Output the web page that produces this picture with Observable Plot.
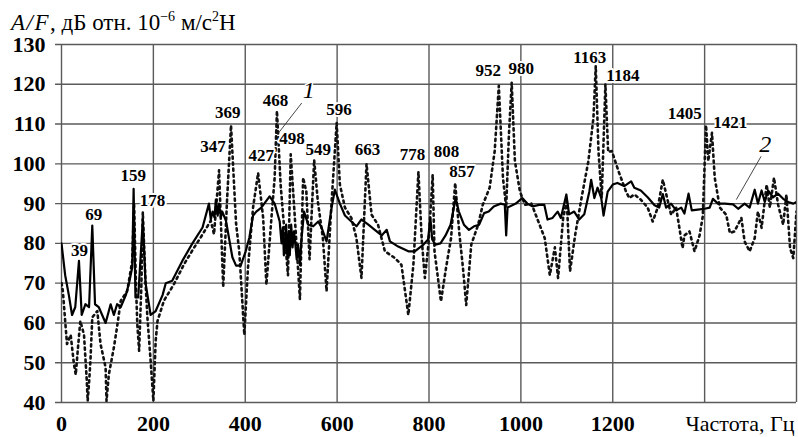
<!DOCTYPE html>
<html><head><meta charset="utf-8">
<script src="https://cdn.jsdelivr.net/npm/d3@7"></script>
<script src="https://cdn.jsdelivr.net/npm/@observablehq/plot@0.6"></script>
<style>
body{margin:0;background:#fff;}
#wrap{position:relative;width:798px;height:437px;font-family:"Liberation Serif","Times New Roman",serif;}
#title{position:absolute;left:11px;top:10px;font-size:23px;color:#000;white-space:nowrap;}
#title i{letter-spacing:1.5px;}
#title sup{font-size:14px;vertical-align:0;position:relative;top:-9px;}
svg{position:absolute;left:0;top:0;}
</style></head>
<body><div id="wrap"><div id="title"><i>A/F</i>, дБ отн. 10<sup>−6</sup> м/с<sup>2</sup>Н</div></div>
<script>
// Series 2 (solid)
const freq2 = [0,8,16,23,30,38,44,52,60,67,73,81,96,107,114,121,129,140,147,154,157,161,167,177,183,194,205,220,227,241,263,285,307,321,325,329,333,336,340,343,347,350,358,372,380,390,401,409,417,424,435,453,464,475,479,482,484,486,489,492,495,497,500,503,506,508,512,515,519,522,528,537,548,559,566,577,588,595,606,617,631,642,653,668,682,697,708,715,733,755,769,788,798,803,807,814,825,836,847,858,865,876,887,898,909,920,930,941,956,965,968,971,989,1003,1014,1025,1040,1051,1058,1069,1080,1087,1099,1105,1116,1127,1138,1149,1153,1160,1167,1175,1180,1189,1200,1210,1225,1240,1247,1261,1276,1291,1301,1309,1316,1327,1338,1349,1356,1365,1372,1385,1400,1411,1418,1429,1444,1462,1473,1487,1498,1509,1516,1524,1531,1538,1549,1560,1571,1582,1593,1600];
const val2 = [80,72,67,62,64,75.6,62,64.7,64,84.5,64.7,64,60,64.7,62,64.7,64,67,70,74,93.7,66.4,66.4,86,70,62,63,67,70,70.6,75.6,80,84,90,86,88,86.5,91,87,90,86.5,88,85.7,76.5,74.4,74.4,78,81.5,87,88,89,91.8,90,85.5,80,84,77,78,84.7,76,83,77,84.7,79,83,81,76,79.7,74.6,80.5,88,84.7,84.3,85.5,84,80.5,89,93.5,90,87,85.5,84.3,86,84.7,83.4,82,83.4,80.5,79.2,78,78,79.7,81,86.4,81,79.7,80,82,84.7,91.4,88,84.7,83.4,84.3,84.7,87.6,88,89.3,90,89.7,82,89,90,91.4,90,89.3,89.7,89.7,86,86.4,88,86.4,92.3,87.3,88,86,87.3,93,96,91.4,94,91.4,87,93,94.8,95.2,94.4,95.6,94,93.3,91.6,89.6,89,92.4,89,90,88.3,89,87.5,92.5,88.3,88.5,88.7,89,91.2,90,90,89.8,88.7,90,89,93.5,90,93.3,90.4,93.3,91.6,92.5,91.2,90.4,90,90.4];

// Series 1 (dotted)
const freq1 = [0,3,9,12,20,27,31,36,41,49,55,57,60,63,67,78,85,96,98,103,114,121,129,143,154,158,162,165,169,174,177,183,187,194,198,200,205,209,223,245,267,289,303,325,332,343,352,360,369,380,387,398,406,417,428,439,446,457,464,469,477,486,493,499,508,519,526,533,540,550,558,569,577,588,599,606,617,631,642,653,664,675,689,704,726,740,755,766,777,784,791,799,808,812,826,837,848,857,866,874,881,892,907,917,932,943,952,961,968,974,980,987,998,1009,1023,1038,1052,1063,1074,1081,1092,1100,1107,1118,1132,1147,1158,1163,1169,1176,1184,1190,1198,1213,1229,1236,1247,1261,1276,1287,1298,1309,1320,1327,1338,1352,1356,1367,1378,1389,1396,1403,1408,1416,1422,1433,1447,1455,1465,1480,1487,1498,1509,1516,1524,1535,1542,1551,1560,1571,1578,1586,1593,1600];
const val1 = [70,68,59,54.7,57,49.7,47,54,60.5,57,45.5,40.4,45,50.5,61.4,63,54.7,48.8,40.4,47,53.8,59,65.6,68,75.6,90,70,59.7,53,70,87.8,70,61.4,50.5,43.8,40.4,55.5,60.5,65.6,69.8,74.8,79,81.5,85.7,82.3,98.4,69,90,109.7,85,78,57,74,89,97.7,86.4,69.6,86.4,96.5,113.3,94.8,82,72,102.4,86.4,66,96.5,93,76,101,90.6,81.3,68,90.6,110.3,94.8,89,86.4,81.3,71.3,100,87.2,84.7,78,76.3,74.6,62,74.6,98,81.3,71.3,80,97.3,78,65.4,73.8,81.3,95.2,82.6,73.8,64.5,79.7,84.7,89.7,94,103.2,119.6,96.5,89,107.4,120.4,100.7,93,89.7,90,85.5,81.3,72,79,71.3,86.4,90.6,73,82,91.4,100.7,111.6,124.6,103,91.4,120,103,103.2,98,93,91.4,92.3,91,89,85.5,89,96,90.6,87.2,89,78.8,82,83,78,82,86.8,109.7,100.7,107.8,96.5,89,87.2,82.6,83,86.4,80.5,78,81.3,88,83.9,94.8,89,96.5,89.7,84.7,92.3,78.8,76.3,88];

// Peak annotations (text, label anchor in data units)
const peakText = ["39","69","159","178","347","369","427","468","498","549","596","663","778","808","857","952","980","1163","1184","1405","1421"];
const peakLabelX = [39,70,156,198,330,362,435,466,502,559,604,666,764,838,872,929,1001,1150,1222,1357,1456];
const peakLabelY = [78.2,87.3,97,90.8,104.4,113,102,116,106.4,103.6,113.7,103.6,102.3,103.2,98,123.5,124,126.6,122.3,112.7,110.5];

// Curve labels
const curveText = ["1","2"];
const curveLabelX = [538,1532];
const curveLabelY = [118.5,105];
const curveLeaderX1 = [523,1523], curveLeaderY1 = [115.3,101.9];
const curveLeaderX2 = [472,1469], curveLeaderY2 = [107.7,91];

const xTicks = [0,200,400,600,800,1000,1200,1400,1600];
const xTickLabels = [0,200,400,600,800,1000,1200];
const yTicks = [40,50,60,70,80,90,100,110,120,130];
const xAxisLabel = "Частота, Гц";

const s1 = freq1.map((f,i)=>({f, v: val1[i]}));
const s2 = freq2.map((f,i)=>({f, v: val2[i]}));
const peaks = peakText.map((t,i)=>({t, x: peakLabelX[i], y: peakLabelY[i]}));
const curves = curveText.map((t,i)=>({t, x: curveLabelX[i], y: curveLabelY[i], x1: curveLeaderX1[i], y1: curveLeaderY1[i], x2: curveLeaderX2[i], y2: curveLeaderY2[i]}));

const font = "Liberation Serif, Times New Roman, serif";
const chart = Plot.plot({
  width: 798, height: 437,
  marginLeft: 61, marginRight: 2, marginTop: 44, marginBottom: 35,
  style: {fontFamily: font, background: "transparent"},
  x: {domain: [0,1600]},
  y: {domain: [40,130]},
  marks: [
    Plot.ruleX(xTicks, {x: d=>d, stroke: "#5a5a5a", strokeWidth: 1.4}),
    Plot.ruleY(yTicks, {y: d=>d, x1: -13, x2: 1600, stroke: "#5a5a5a", strokeWidth: 1.4}),
    Plot.line(s1, {x: "f", y: "v", stroke: "#111", strokeWidth: 2.6, strokeDasharray: "2.2,3.8", clip: true}),
    Plot.line(s2, {x: "f", y: "v", stroke: "#000", strokeWidth: 2.2, strokeLinejoin: "round", clip: true}),
    Plot.link(curves, {x1: "x1", y1: "y1", x2: "x2", y2: "y2", stroke: "#333", strokeWidth: 0.9}),
    Plot.text(curves, {x: "x", y: "y", text: "t", fontSize: 24, fontStyle: "italic", fill: "#000", stroke: "white", strokeWidth: 3, fontFamily: font}),
    Plot.text(peaks, {x: "x", y: "y", text: "t", fontSize: 17, fontWeight: "bold", fill: "#000", stroke: "white", strokeWidth: 4, fontFamily: font}),
    Plot.axisY(yTicks, {tickSize: 0, tickPadding: 16, fontSize: 22, fontWeight: "bold", label: null, fontFamily: font}),
    Plot.axisX(xTickLabels, {tickSize: 0, tickPadding: 13, fontSize: 22, fontWeight: "bold", label: null, fontFamily: font, tickFormat: d=>String(d)}),
    Plot.text([xAxisLabel], {x: 1600, y: 40, text: d=>d, textAnchor: "end", dy: 21, dx: -2, fontSize: 22, fill: "#000", fontFamily: font})
  ]
});
document.getElementById("wrap").appendChild(chart);
</script>
</body></html>
